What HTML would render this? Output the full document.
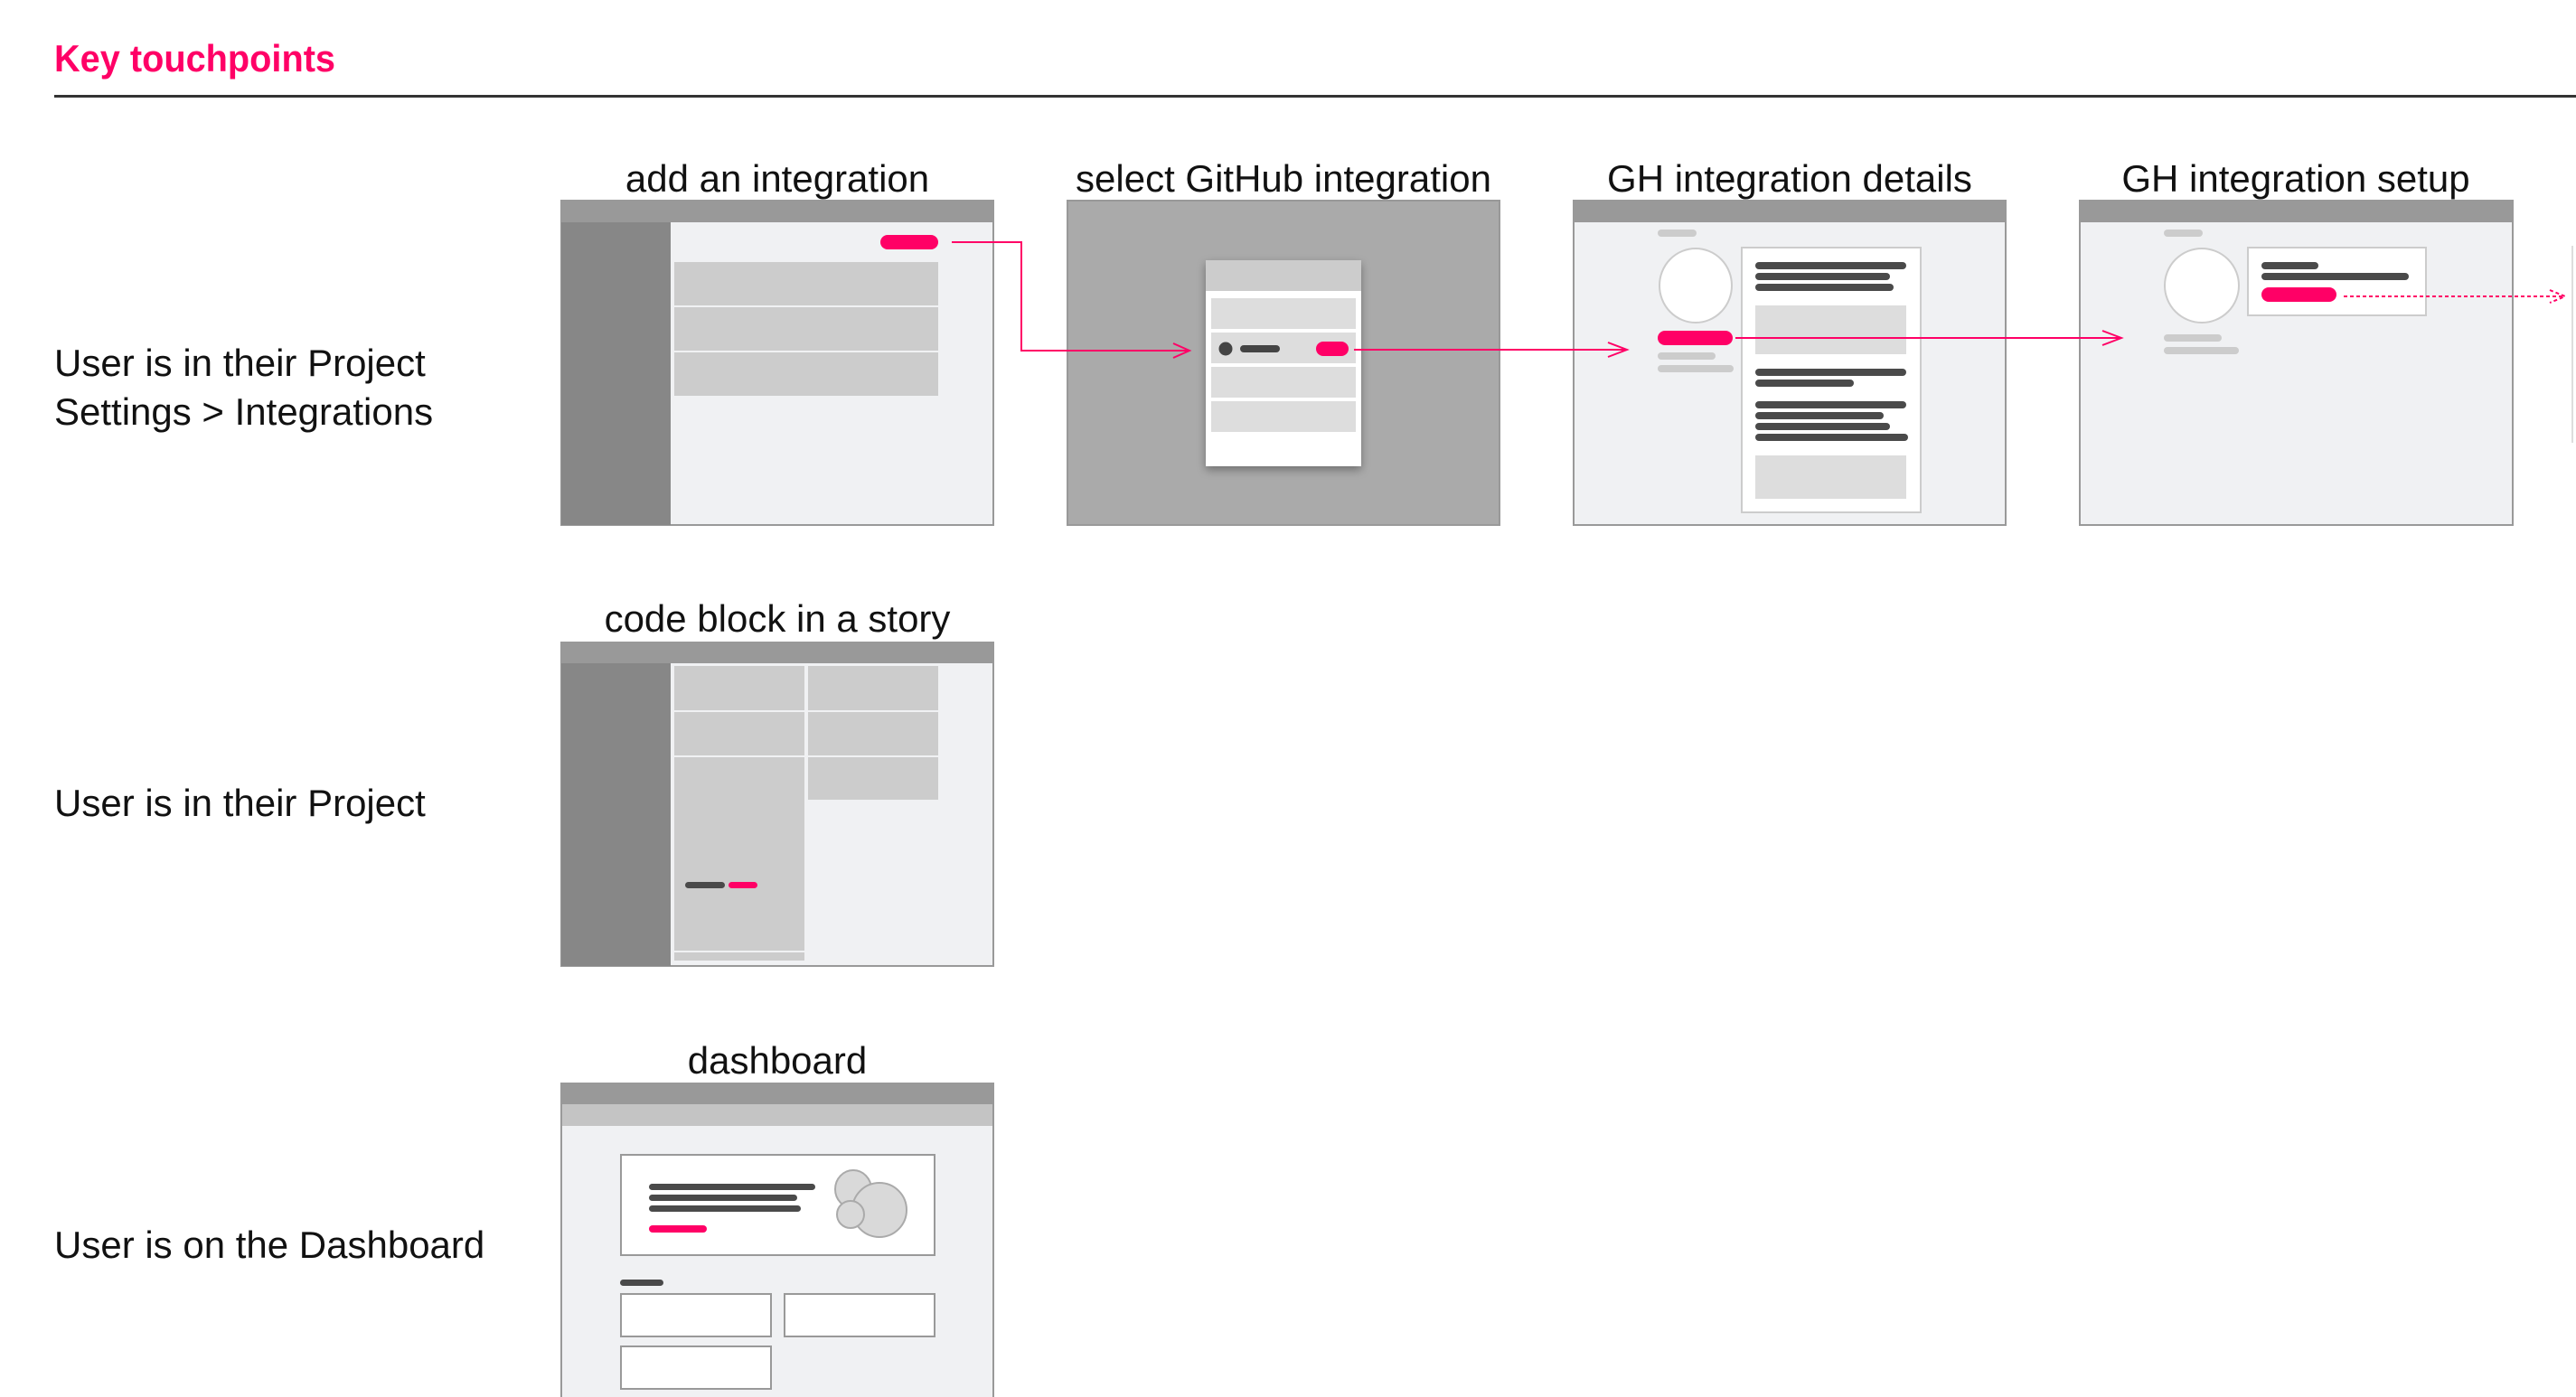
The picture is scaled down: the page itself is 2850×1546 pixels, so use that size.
<!DOCTYPE html>
<html><head><meta charset="utf-8"><style>
html,body{margin:0;padding:0;background:#fff;width:2850px;height:1546px;overflow:hidden}
svg{display:block}
text{font-family:"Liberation Sans",sans-serif}
</style></head><body>
<svg width="2850" height="1546" viewBox="0 0 2850 1546" xmlns="http://www.w3.org/2000/svg">
<defs>
<filter id="sh" x="-20%" y="-10%" width="140%" height="130%"><feDropShadow dx="0" dy="4" stdDeviation="5" flood-color="#000" flood-opacity="0.35"/></filter>
</defs>
<text x="60" y="79" font-size="42" fill="#ff0066" font-weight="bold" textLength="311" lengthAdjust="spacingAndGlyphs">Key touchpoints</text>
<rect x="60" y="105" width="2790" height="3" fill="#333"/>

<g font-size="42" fill="#111">
<text x="60" y="416">User is in their Project</text>
<text x="60" y="470">Settings &gt; Integrations</text>
<text x="60" y="903">User is in their Project</text>
<text x="60" y="1392">User is on the Dashboard</text>
</g>
<g font-size="42" fill="#111" text-anchor="middle">
<text x="860" y="212">add an integration</text>
<text x="1420" y="212">select GitHub integration</text>
<text x="1980" y="212">GH integration details</text>
<text x="2540" y="212">GH integration setup</text>
<text x="860" y="699">code block in a story</text>
<text x="860" y="1188">dashboard</text>
</g>

<!-- Frame 1 -->
<rect x="621" y="222" width="478" height="359" fill="#f0f1f3" stroke="#999" stroke-width="2"/>
<rect x="621" y="222" width="478" height="24" fill="#999"/>
<rect x="621" y="246" width="121" height="335" fill="#878787"/>
<rect x="974" y="260" width="64" height="16" rx="8" fill="#ff0066"/>
<rect x="746" y="290" width="292" height="48" fill="#ccc"/>
<rect x="746" y="340" width="292" height="48" fill="#ccc"/>
<rect x="746" y="390" width="292" height="48" fill="#ccc"/>

<!-- Frame 2 -->
<rect x="1181" y="222" width="478" height="359" fill="#aaa" stroke="#999" stroke-width="2"/>
<rect x="1334" y="288" width="172" height="228" fill="#fff" filter="url(#sh)"/>
<rect x="1334" y="288" width="172" height="34" fill="#ccc"/>
<rect x="1340" y="330" width="160" height="34" fill="#ddd"/>
<rect x="1340" y="368" width="160" height="34" fill="#ddd"/>
<rect x="1340" y="406" width="160" height="34" fill="#ddd"/>
<rect x="1340" y="444" width="160" height="34" fill="#ddd"/>
<ellipse cx="1356" cy="386" rx="7.5" ry="7.5" fill="#444"/>
<rect x="1372" y="382" width="44" height="8" rx="4" fill="#444"/>
<rect x="1456" y="378" width="36" height="16" rx="8" fill="#ff0066"/>

<!-- Frame 3 -->
<rect x="1741" y="222" width="478" height="359" fill="#f0f1f3" stroke="#999" stroke-width="2"/>
<rect x="1741" y="222" width="478" height="24" fill="#999"/>
<rect x="1834" y="254" width="43" height="8" rx="4" fill="#ccc"/>
<ellipse cx="1876" cy="316" rx="40" ry="41" fill="#fff" stroke="#ccc" stroke-width="2"/>
<rect x="1834" y="366" width="83" height="16" rx="8" fill="#ff0066"/>
<rect x="1834" y="390" width="64" height="8" rx="4" fill="#ccc"/>
<rect x="1834" y="404" width="84" height="8" rx="4" fill="#ccc"/>
<rect x="1927" y="274" width="198" height="293" fill="#fff" stroke="#ccc" stroke-width="2"/>
<g fill="#4a4a4a">
<rect x="1942" y="290" width="167" height="8" rx="4"/>
<rect x="1942" y="302" width="149" height="8" rx="4"/>
<rect x="1942" y="314" width="153" height="8" rx="4"/>
<rect x="1942" y="408" width="167" height="8" rx="4"/>
<rect x="1942" y="420" width="109" height="8" rx="4"/>
<rect x="1942" y="444" width="167" height="8" rx="4"/>
<rect x="1942" y="456" width="142" height="8" rx="4"/>
<rect x="1942" y="468" width="149" height="8" rx="4"/>
<rect x="1942" y="480" width="169" height="8" rx="4"/>
</g>
<rect x="1942" y="338" width="167" height="54" fill="#ddd"/>
<rect x="1942" y="504" width="167" height="48" fill="#ddd"/>

<!-- Frame 4 -->
<rect x="2301" y="222" width="479" height="359" fill="#f0f1f3" stroke="#999" stroke-width="2"/>
<rect x="2301" y="222" width="479" height="24" fill="#999"/>
<rect x="2394" y="254" width="43" height="8" rx="4" fill="#ccc"/>
<ellipse cx="2436" cy="316" rx="41" ry="41" fill="#fff" stroke="#ccc" stroke-width="2"/>
<rect x="2394" y="370" width="64" height="8" rx="4" fill="#ccc"/>
<rect x="2394" y="384" width="83" height="8" rx="4" fill="#ccc"/>
<rect x="2487" y="274" width="197" height="75" fill="#fff" stroke="#ccc" stroke-width="2"/>
<rect x="2502" y="290" width="63" height="8" rx="4" fill="#4a4a4a"/>
<rect x="2502" y="302" width="163" height="8" rx="4" fill="#4a4a4a"/>
<rect x="2502" y="318" width="83" height="16" rx="8" fill="#ff0066"/>
<rect x="2845" y="272" width="2" height="218" fill="#ddd"/>

<!-- Connectors -->
<g fill="none" stroke="#ff0066" stroke-width="2">
<polyline points="1053,268 1130,268 1130,388 1314,388"/>
<polyline points="1298,380 1316,388 1298,396"/>
<line x1="1498" y1="387" x2="1799" y2="387"/>
<polyline points="1779,379 1800,387 1779,395"/>
<line x1="1920" y1="374" x2="2346" y2="374"/>
<polyline points="2326,366 2347,374 2326,382"/>
<line x1="2593" y1="328" x2="2836" y2="328" stroke-dasharray="4,3"/>
<polyline points="2821,321 2838,328 2821,335" stroke-dasharray="4,3"/>
</g>

<!-- Frame 5 -->
<rect x="621" y="711" width="478" height="358" fill="#f0f1f3" stroke="#999" stroke-width="2"/>
<rect x="621" y="711" width="478" height="23" fill="#999"/>
<rect x="621" y="734" width="121" height="335" fill="#878787"/>
<rect x="746" y="737" width="144" height="49" fill="#ccc"/>
<rect x="746" y="788" width="144" height="48" fill="#ccc"/>
<rect x="746" y="838" width="144" height="214" fill="#ccc"/>
<rect x="746" y="1054" width="144" height="9" fill="#ccc"/>
<rect x="894" y="737" width="144" height="49" fill="#ccc"/>
<rect x="894" y="788" width="144" height="48" fill="#ccc"/>
<rect x="894" y="838" width="144" height="47" fill="#ccc"/>
<rect x="758" y="976" width="44" height="7" rx="3.5" fill="#4a4a4a"/>
<rect x="806" y="976" width="32" height="7" rx="3.5" fill="#ff0066"/>

<!-- Frame 6 -->
<rect x="621" y="1199" width="478" height="360" fill="#f0f1f3" stroke="#999" stroke-width="2"/>
<rect x="621" y="1199" width="478" height="23" fill="#999"/>
<rect x="622" y="1222" width="476" height="24" fill="#c4c4c4"/>
<rect x="687" y="1278" width="347" height="111" fill="#fff" stroke="#999" stroke-width="2"/>
<rect x="718" y="1310" width="184" height="7" rx="3.5" fill="#4a4a4a"/>
<rect x="718" y="1322" width="164" height="7" rx="3.5" fill="#4a4a4a"/>
<rect x="718" y="1334" width="168" height="7" rx="3.5" fill="#4a4a4a"/>
<rect x="718" y="1356" width="64" height="8" rx="4" fill="#ff0066"/>
<g fill="#d9d9d9" stroke="#aaa" stroke-width="2">
<ellipse cx="944" cy="1316" rx="20" ry="21"/>
<circle cx="973" cy="1339" r="30"/>
<circle cx="941" cy="1344" r="15"/>
</g>
<rect x="686" y="1416" width="48" height="7" rx="3.5" fill="#4a4a4a"/>
<rect x="687" y="1432" width="166" height="47" fill="#fff" stroke="#999" stroke-width="2"/>
<rect x="868" y="1432" width="166" height="47" fill="#fff" stroke="#999" stroke-width="2"/>
<rect x="687" y="1490" width="166" height="47" fill="#fff" stroke="#999" stroke-width="2"/>
</svg>
</body></html>
